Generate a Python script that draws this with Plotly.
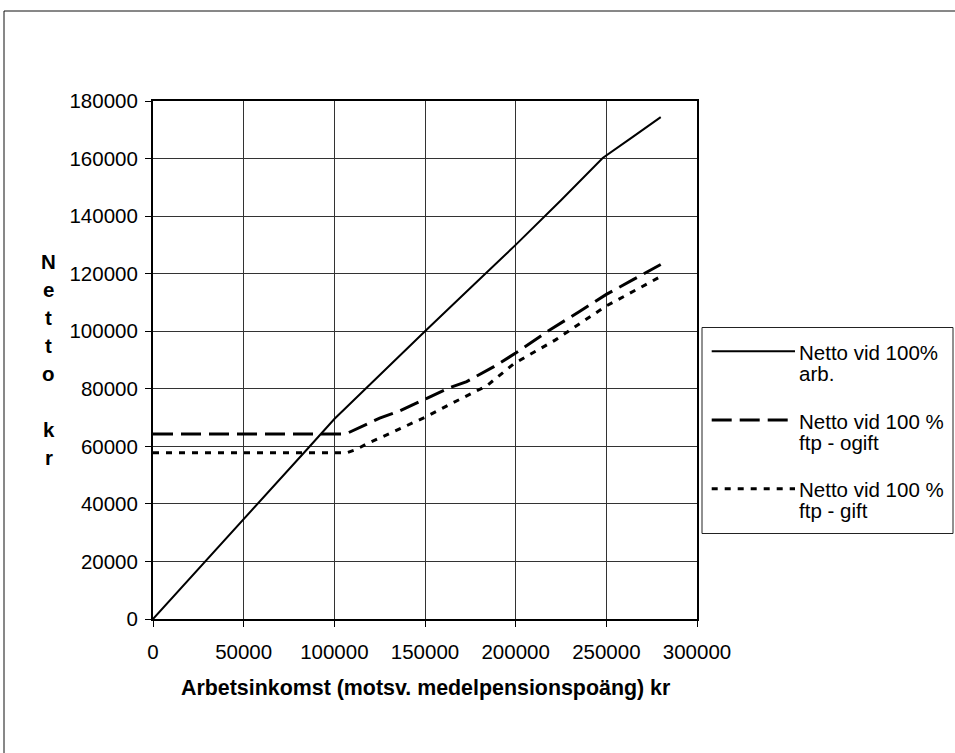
import plotly.graph_objects as go

# ---------------- data ----------------
arb_x = [0, 29000, 50000, 60000, 70000, 85000, 100000, 125000, 150000, 175000,
         200000, 225000, 248000, 265000, 280000]
arb_y = [0, 20000, 34500, 41500, 48500, 59000, 69500, 84800, 100000, 115000,
         130000, 145500, 160200, 167700, 174400]

ogift_x = [0, 104000, 108000, 125000, 136000, 149000, 164000, 173000, 188000,
           200000, 219000, 235000, 250000, 265000, 280000]
ogift_y = [64300, 64300, 64800, 69800, 72300, 76200, 80500, 82500, 87700,
           92400, 100500, 106800, 112800, 118000, 123200]

gift_x = [0, 107000, 112000, 118000, 131000, 151000, 165000, 184000, 199000,
          222000, 250000, 265000, 280000]
gift_y = [57800, 57800, 58900, 60900, 64600, 70400, 75000, 81000, 88700,
          97000, 108800, 113800, 119000]

series_names = ["Netto vid 100%", "Netto vid 100 %", "Netto vid 100 %"]
series_sub = ["arb.", "ftp - ogift", "ftp - gift"]
series_dash = ["solid", "20px,8px", "6px,7px"]
series_width = [2, 3, 3]

x_ticks = [0, 50000, 100000, 150000, 200000, 250000, 300000]
y_ticks = [0, 20000, 40000, 60000, 80000, 100000, 120000, 140000, 160000, 180000]
x_title = "Arbetsinkomst (motsv. medelpensionspoäng) kr"
y_title_letters = ["N", "e", "t", "t", "o", "", "k", "r"]

# ---------------- layout helpers ----------------
W, H = 955, 753
L, R, T, B = 153, 258, 101, 134
PW, PH = W - L - R, H - T - B


def px(x):
    return (x - L) / PW


def py(y):
    return (H - B - y) / PH


FONT = "Arial, Liberation Sans, sans-serif"
FS = 20.5

fig = go.Figure()
for xs, ys, nm, dash, w in zip([arb_x, ogift_x, gift_x], [arb_y, ogift_y, gift_y],
                               series_names, series_dash, series_width):
    fig.add_trace(go.Scatter(x=xs, y=ys, mode="lines", name=nm, showlegend=False,
                             line=dict(color="black", width=w, dash=dash)))

axis_common = dict(showline=True, linecolor="black", linewidth=2, mirror=True,
                   showgrid=True, gridcolor="#333333", gridwidth=1, zeroline=False,
                   ticks="outside", ticklen=6, tickwidth=1, tickcolor="black",
                   tickfont=dict(family=FONT, size=FS, color="black"),
                   tickformat="d")

fig.update_xaxes(range=[0, 300000], tickvals=x_ticks, ticktext=[str(v) for v in x_ticks],
                 ticklabelstandoff=7, **axis_common)
fig.update_yaxes(range=[0, 180000], tickvals=y_ticks, ticktext=[str(v) for v in y_ticks],
                 ticklabelstandoff=3, **axis_common)

shapes = []
# outer chart frame (extends past the page on right/bottom)
shapes.append(dict(type="rect", xref="paper", yref="paper",
                   x0=px(4), x1=px(962), y0=py(762), y1=py(11),
                   line=dict(color="#111111", width=1), fillcolor="rgba(0,0,0,0)", layer="below"))
# legend box
shapes.append(dict(type="rect", xref="paper", yref="paper",
                   x0=px(702), x1=px(953), y0=py(533.5), y1=py(327.5),
                   line=dict(color="#222222", width=1), fillcolor="white"))

annotations = []
entry_c = [352.3, 421.0, 489.7]
for i in range(3):
    c = entry_c[i]
    shapes.append(dict(type="line", xref="paper", yref="paper",
                       x0=px(711.7), x1=px(795), y0=py(c - 1), y1=py(c - 1),
                       line=dict(color="black", width=series_width[i], dash=series_dash[i])))
    annotations.append(dict(xref="paper", yref="paper", x=px(797), y=py(c),
                            text=series_names[i], showarrow=False, xanchor="left", yanchor="middle",
                            font=dict(family=FONT, size=FS, color="black")))
    annotations.append(dict(xref="paper", yref="paper", x=px(797), y=py(c + 21),
                            text=series_sub[i], showarrow=False, xanchor="left", yanchor="middle",
                            font=dict(family=FONT, size=FS, color="black")))

# x-axis title
annotations.append(dict(xref="paper", yref="paper", x=px(425), y=py(687.5),
                        text="<b>" + x_title + "</b>", showarrow=False,
                        xanchor="center", yanchor="middle",
                        font=dict(family=FONT, size=21.4, color="black")))
# y-axis title, stacked letters
for k, ch in enumerate(y_title_letters):
    if not ch:
        continue
    annotations.append(dict(xref="paper", yref="paper", x=px(48.5), y=py(261 + 28 * k),
                            text="<b>" + ch + "</b>", showarrow=False,
                            xanchor="center", yanchor="middle",
                            font=dict(family=FONT, size=FS, color="black")))

fig.update_layout(width=W, height=H, margin=dict(l=L, r=R, t=T, b=B, autoexpand=False),
                  paper_bgcolor="white", plot_bgcolor="white",
                  shapes=shapes, annotations=annotations, showlegend=False,
                  font=dict(family=FONT, size=FS, color="black"))

fig.write_html("out.html", config={"displayModeBar": False},
               post_script="document.body.style.margin='0';document.body.style.overflow='hidden';")
